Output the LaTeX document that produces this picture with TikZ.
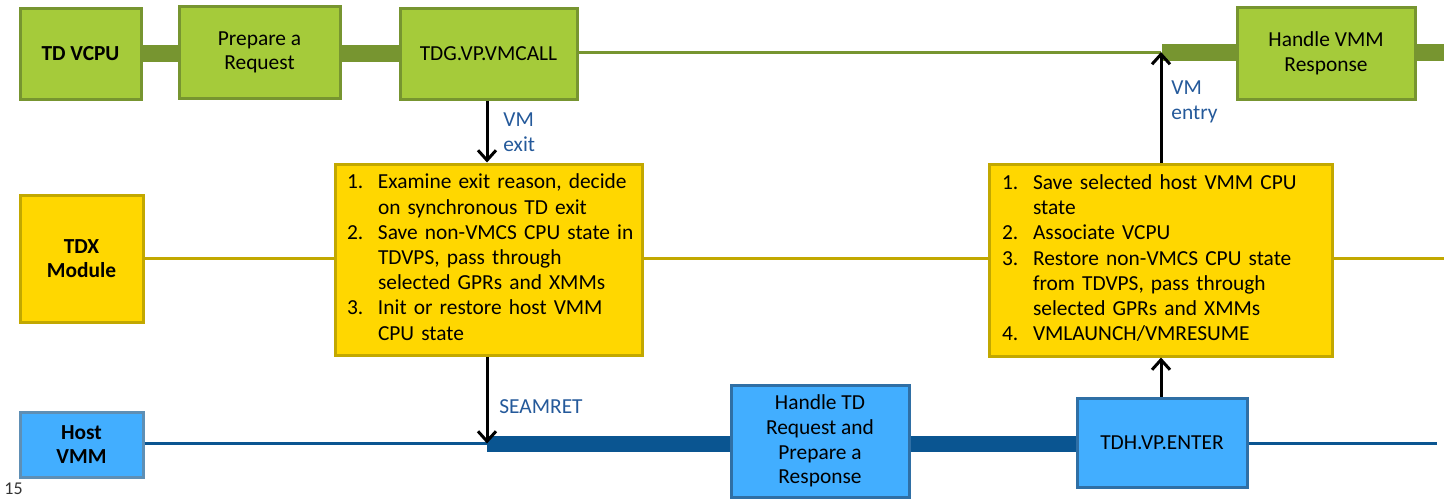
\documentclass[tikz,border=0pt]{standalone}
\usepackage{fontspec}
\setmainfont{Carlito}
\usetikzlibrary{arrows.meta}
\definecolor{gfill}{HTML}{A5CB3A}
\definecolor{gline}{HTML}{779530}
\definecolor{yfill}{HTML}{FFD700}
\definecolor{yline}{HTML}{C2A800}
\definecolor{bfill}{HTML}{42AEFF}
\definecolor{bline}{HTML}{0A5591}
\definecolor{bbord}{HTML}{2F6FA5}
\definecolor{hbord}{HTML}{5E8FB5}
\definecolor{lbl}{HTML}{24599A}
\tikzset{
  every node/.style={font=\fontsize{10.7}{12.3}\selectfont},
  gbox/.style={draw=gline, fill=gfill, line width=1.5pt, rectangle, align=center, inner sep=2pt},
  ybox/.style={draw=yline, fill=yfill, line width=1.5pt, rectangle, inner sep=0pt},
  bbox/.style={draw=bbord, fill=bfill, line width=1.5pt, rectangle, align=center, inner sep=2pt},
  gthick/.style={draw=gline, line width=8.5pt},
  gthin/.style={draw=gline, line width=1.5pt},
  ythin/.style={draw=yline, line width=1.5pt},
  bthick/.style={draw=bline, line width=8pt},
  bthin/.style={draw=bline, line width=1.5pt},
  flowarrow/.style={draw=black, line width=1.5pt, -{Straight Barb[length=5pt,width=9pt,line width=1.5pt]}},
  lbltext/.style={text=lbl, align=left, inner sep=0pt, font=\fontsize{10.7}{12.5}\selectfont},
}
\newcommand\steplist[1]{{\fontsize{10.7}{12.6}\selectfont\begin{tabular}{@{}p{15.5pt}@{}l@{}}#1\end{tabular}}}
\begin{document}
\begin{tikzpicture}[x=0.5pt,y=-0.5pt]
\useasboundingbox (0,0) rectangle (1444,499);

% ---- TD VCPU row ----
\node[gbox, minimum width=60.5pt, minimum height=45.5pt] (tdvcpu) at (80.5,53.5) {\textbf{TD VCPU}};
\node[gbox, minimum width=80.5pt, minimum height=46pt] (prep) at (259.5,52.5) {Prepare a\\Request};
\node[gbox, minimum width=88.5pt, minimum height=45.5pt] (tdg) at (488.5,53.5) {TDG.VP.VMCALL};
\node[gbox, minimum width=89pt, minimum height=46pt] (hvr) at (1326,53) {Handle VMM\\Response};
\coordinate (lane) at (0,53);
\coordinate (entry) at (1161,52);
\coordinate (gend) at (1444,52);

% ---- TDX Module row ----
\node[ybox, align=center, inner sep=2pt, minimum width=61.5pt, minimum height=63.5pt] (tdx) at (81.5,258.5) {\textbf{TDX}\\\textbf{Module}};
\node[ybox, minimum width=153.5pt, minimum height=95.5pt, text width=141.5pt, align=left] (ly) at (488.5,259.5) {\steplist{
1. & Examine exit reason, decide\\
   & on synchronous TD exit\\
2. & Save non-VMCS CPU state in\\
   & TDVPS, pass through\\
   & selected GPRs and XMMs\\
3. & Init or restore host VMM\\
   & CPU state}};
\node[ybox, minimum width=171.5pt, minimum height=96pt, text width=158.5pt, align=left] (ry) at (1160.5,260) {\steplist{
1. & Save selected host VMM CPU\\
   & state\\
2. & Associate VCPU\\
3. & Restore non-VMCS CPU state\\
   & from TDVPS, pass through\\
   & selected GPRs and XMMs\\
4. & VMLAUNCH/VMRESUME}};
\coordinate (yend) at (1444,258);

% ---- Host VMM row ----
\node[bbox, draw=hbord, minimum width=61.5pt, minimum height=32.5pt] (host) at (81.5,444.5) {\textbf{Host}\\\textbf{VMM}};
\node[bbox, minimum width=89pt, minimum height=56pt] (htd) at (820,441) {Handle TD\\Request and\\Prepare a\\Response};
\node[bbox, minimum width=85pt, minimum height=44.5pt] (tdh) at (1162,442.5) {TDH.VP.ENTER};
\coordinate (seam) at (487,443.5);
\coordinate (bend) at (1437,443.5);

% ---- lanes ----
\draw[gthick] (tdvcpu.east |- lane) -- (prep.west |- lane);
\draw[gthick] (prep.east |- lane) -- (tdg.west |- lane);
\draw[gthin] (tdg.east |- entry) -- (entry);
\draw[gthick] ([xshift=0.5pt]entry) -- (hvr.west |- entry);
\draw[gthick] (hvr.east |- entry) -- (gend);

\draw[ythin] (tdx.east |- yend) -- (ly.west |- yend);
\draw[ythin] (ly.east |- yend) -- (ry.west |- yend);
\draw[ythin] (ry.east |- yend) -- (yend);

\draw[bthin] (host.east |- seam) -- (seam);
\draw[bthick] (seam) -- (htd.west |- seam);
\draw[bthick] (htd.east |- seam) -- (tdh.west |- seam);
\draw[bthin] (tdh.east |- seam) -- (bend);

% ---- transitions ----
\draw[flowarrow] (tdg.south -| seam) -- (ly.north -| seam);
\draw[flowarrow] (ly.south -| seam) -- (seam);
\draw[flowarrow] (tdh.north -| entry) -- (ry.south -| entry);
\draw[flowarrow] (ry.north -| entry) -- (entry);

\node[lbltext, anchor=north west] (lexit) at (503,112) {VM\\exit};
\node[lbltext, anchor=north west] (lentry) at (1171,80) {VM\\entry};
\node[lbltext, anchor=west] (lseam) at (499,407) {SEAMRET};

\node[inner sep=0pt, anchor=south west, text=black!80, font=\fontsize{9}{10}\selectfont] (pg) at (4,495) {15};
\end{tikzpicture}
\end{document}
